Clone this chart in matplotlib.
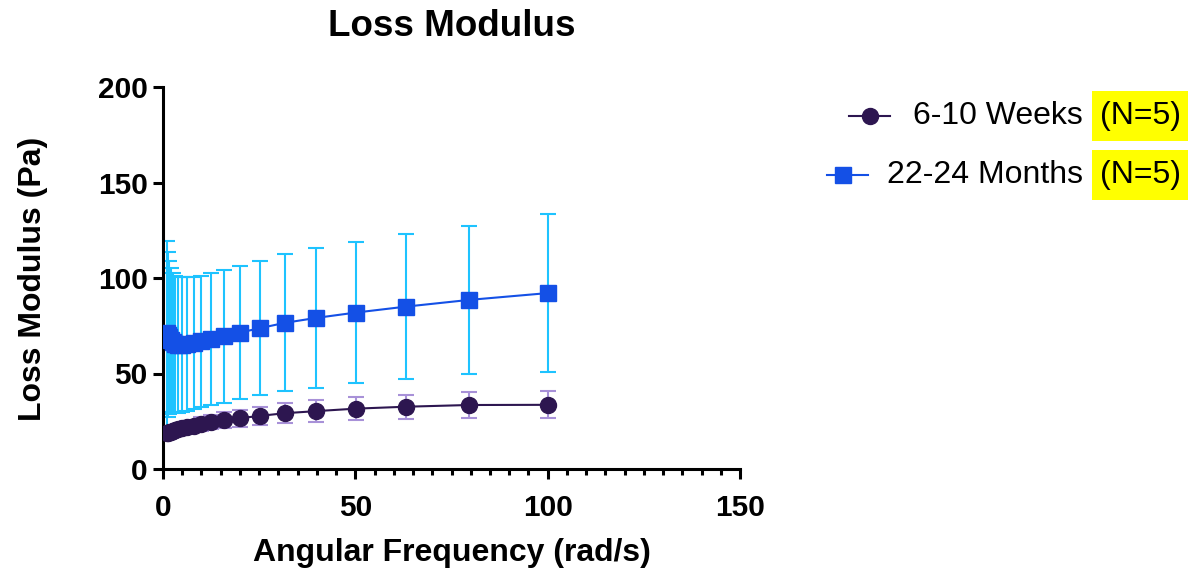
import matplotlib
matplotlib.use('Agg')
import matplotlib.pyplot as plt
from matplotlib.lines import Line2D
from matplotlib.patches import Rectangle
from matplotlib.ticker import MultipleLocator

plt.rcParams['font.family'] = ['Liberation Sans', 'DejaVu Sans']

# angular frequency (rad/s)
freq = [1.0, 1.259, 1.585, 1.995, 2.512, 3.162, 3.981, 5.012, 6.31, 7.943, 10.0,
        12.59, 15.85, 19.95, 25.12, 31.62, 39.81, 50.12, 63.1, 79.43, 100.0]

# 6-10 weeks
young_mean = [18.9, 19.0, 19.3, 19.6, 20.0, 20.5, 21.0, 21.5, 22.1, 22.7, 23.5,
              24.5, 25.5, 26.6, 27.8, 29.2, 30.3, 31.6, 32.6, 33.5, 33.6]
young_sd = [1.5, 1.6, 1.7, 1.8, 2.0, 2.2, 2.4, 2.6, 2.9, 3.2, 3.5,
            3.8, 4.1, 4.4, 4.8, 5.2, 5.8, 6.1, 6.4, 6.6, 7.0]

# 22-24 months
old_mean = [71.0, 70.3, 69.0, 67.5, 66.3, 65.5, 65.0, 65.0, 65.4, 66.0, 66.8,
            68.0, 69.4, 71.4, 73.7, 76.5, 79.1, 81.9, 85.0, 88.5, 92.1]
old_sd = [48.4, 43.3, 40.0, 37.7, 36.3, 35.7, 35.6, 35.4, 35.0, 34.6, 34.4,
          34.4, 34.8, 34.8, 35.1, 35.9, 36.7, 37.0, 38.0, 38.8, 41.4]

labels = ['6-10 Weeks', '22-24 Months']
n_text = '(N=5)'

purple = '#2d1650'
lavender = '#a891d8'
blue = '#1450e6'
cyan = '#1ec3ff'

W, H = 1198, 577
fig = plt.figure(figsize=(W / 100, H / 100), dpi=100)
ax = fig.add_axes([163 / W, 1 - 469 / H, (740 - 163) / W, (469 - 87) / H])

ax.errorbar(freq, old_mean, yerr=old_sd, fmt='none', ecolor=cyan,
            elinewidth=1.5, capsize=5.5, capthick=1.5, zorder=2)
ax.plot(freq, old_mean, color=blue, lw=1.5, marker='s', ms=11.5,
        mec=blue, mfc=blue, zorder=3)
ax.errorbar(freq, young_mean, yerr=young_sd, fmt='none', ecolor=lavender,
            elinewidth=1.5, capsize=5.5, capthick=1.5, zorder=4)
ax.plot(freq, young_mean, color=purple, lw=1.5, marker='o', ms=11.5,
        mec=purple, mfc=purple, zorder=5)

ax.set_xlim(0, 150)
ax.set_ylim(0, 200)
ax.xaxis.set_major_locator(MultipleLocator(50))
ax.xaxis.set_minor_locator(MultipleLocator(5))
ax.yaxis.set_major_locator(MultipleLocator(50))
for s in ['top', 'right']:
    ax.spines[s].set_visible(False)
for s in ['left', 'bottom']:
    ax.spines[s].set_linewidth(2.2)
ax.tick_params(axis='both', which='major', length=7, width=2.2, labelsize=21.5)
ax.tick_params(axis='y', which='major', pad=4)
ax.tick_params(axis='x', which='major', pad=11)
ax.tick_params(axis='x', which='minor', length=4.5, width=2.2)
for lab in ax.get_xticklabels() + ax.get_yticklabels():
    lab.set_fontweight('bold')

fig.text(451.5 / W, 1 - 26 / H, 'Loss Modulus', ha='center', va='center',
         fontsize=26.5, fontweight='bold')
fig.text(451.5 / W, 1 - 553 / H, 'Angular Frequency (rad/s)', ha='center',
         va='center', fontsize=23, fontweight='bold')
fig.text(33 / W, 1 - 279 / H, 'Loss Modulus (Pa)', ha='center', va='center',
         rotation=90, fontsize=23, fontweight='bold')

# legend drawn by hand (right-aligned labels, highlighted N)
rows = [
    (116, 849, 890, 870, 'o', purple, purple),
    (175, 827, 868, 843, 's', blue, blue),
]
for (yc, x0, x1, xm, mk, lc, mc), lab in zip(rows, labels):
    yf = 1 - yc / H
    fig.add_artist(Line2D([x0 / W, x1 / W], [yf, yf], color=lc, lw=1.5,
                          transform=fig.transFigure))
    fig.add_artist(Line2D([xm / W], [yf], marker=mk, ms=11.5 if mk == 'o' else 11,
                          color=mc, transform=fig.transFigure))
    fig.text(1083 / W, yf, lab, ha='right', va='center', fontsize=23)
    fig.add_artist(Rectangle((1092 / W, yf - 25 / H), 96 / W, 50 / H,
                             facecolor='#ffff00', edgecolor='none',
                             transform=fig.transFigure))
    fig.text(1141 / W, yf, n_text, ha='center', va='center', fontsize=23)

fig.savefig('out.png', dpi=100)
